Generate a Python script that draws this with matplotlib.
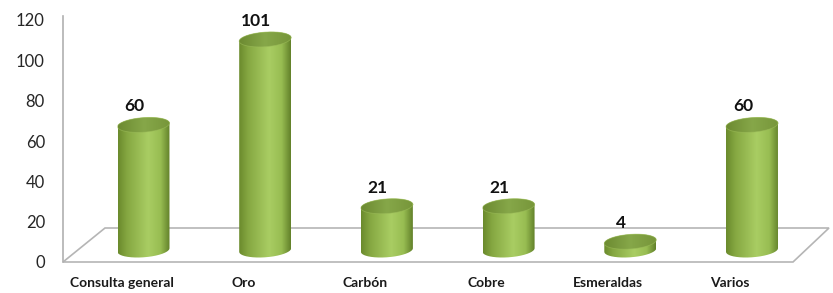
import matplotlib.pyplot as plt
import numpy as np
from matplotlib.path import Path
from matplotlib.patches import PathPatch, Polygon
from matplotlib.colors import LinearSegmentedColormap

plt.rcParams['font.family'] = ['Lato', 'DejaVu Sans']

# Data
categories = ["Consulta general", "Oro", "Carbón", "Cobre", "Esmeraldas", "Varios"]
values = [60, 101, 21, 21, 4, 60]
y_ticks = [0, 20, 40, 60, 80, 100, 120]

# Colors for the cylinders
body_cmap = LinearSegmentedColormap.from_list(
    "body", [(0.0, "#6a8a2c"), (0.18, "#86a842"), (0.58, "#a9cd63"),
             (0.82, "#98bd52"), (1.0, "#62812a")])
top_cmap = LinearSegmentedColormap.from_list(
    "top", [(0.0, "#6c8a31"), (0.5, "#86a749"), (1.0, "#77963a")])

W, H = 833, 293
fig = plt.figure(figsize=(W / 100, H / 100), dpi=100)

# pixel layout helpers (category spacing / value scale)
x0_px, dx_px = 143.5, 121.7
xlim = (-x0_px / dx_px, (W - x0_px) / dx_px)

# background axes: value axis and floor
ax = fig.add_axes([0, 0, 1, 1])
ax_scale = 242 / 120  # px per unit on the value axis
ax.set_xlim(*xlim)
ax.set_ylim(-(H - 262) / ax_scale, 262 / ax_scale)
ax.patch.set_alpha(0)
for s in ["top", "right", "bottom"]:
    ax.spines[s].set_visible(False)
spine_x = (63 - x0_px) / dx_px
ax.spines["left"].set_position(("data", spine_x))
ax.spines["left"].set_bounds(0, 122)
ax.spines["left"].set_color("#b0b0b0")
ax.spines["left"].set_linewidth(1.2)
ax.set_xticks([])
ax.set_yticks(y_ticks)
ax.tick_params(axis="y", length=0, pad=13, labelsize=12, labelcolor="#262626")

# floor (parallelogram)
back_v = (262 - 228) / ax_scale
floor = [(spine_x, 0), ((105 - x0_px) / dx_px, back_v),
         ((829 - x0_px) / dx_px, back_v), ((793 - x0_px) / dx_px, 0)]
ax.add_patch(Polygon(floor, closed=True, fill=False, edgecolor="#b5b5b5", lw=1.2))

# category labels (shifted left, under the front edge)
for i, c in enumerate(categories):
    ax.text(i - 22 / dx_px, -(283 - 262) / ax_scale, c, ha="center", va="center",
            fontsize=10, fontweight="bold", color="#1a1a1a")

# bar axes (slightly bigger scale, base sits in the middle of the floor)
ax2 = fig.add_axes([0, 0, 1, 1])
bar_scale = 2.085
ax2.axis("off")
ax2.patch.set_alpha(0)

a = 26 / dx_px          # half width of a cylinder
b = 7.3 / bar_scale     # half height of the ellipse
k = 4.0                 # tilt of the ellipses
t = np.linspace(0, 2 * np.pi, 200)


def ellipse(cx, cy, tt):
    ex = a * np.cos(tt)
    return cx + ex, cy + b * np.sin(tt) + k * ex


grad = np.linspace(0, 1, 256).reshape(1, -1)
for i, v in enumerate(values):
    # body: lower half of bottom ellipse + upper half of top ellipse
    tb = np.linspace(np.pi, 2 * np.pi, 100)
    tt = np.linspace(0, np.pi, 100)
    bx, by = ellipse(i, 0, tb)
    tx, ty = ellipse(i, v, tt)
    verts = np.column_stack([np.r_[bx, tx], np.r_[by, ty]])
    body = PathPatch(Path(verts, closed=False), facecolor="none", edgecolor="none")
    ax2.add_patch(body)
    im = ax2.imshow(grad, cmap=body_cmap, aspect="auto",
                    extent=[i - a, i + a, -b - k * a - 1, v + b + k * a + 1],
                    zorder=2, interpolation="bilinear")
    im.set_clip_path(body)

    # top face
    ex, ey = ellipse(i, v, t)
    top = PathPatch(Path(np.column_stack([ex, ey])), facecolor="none", edgecolor="none")
    ax2.add_patch(top)
    im2 = ax2.imshow(grad, cmap=top_cmap, aspect="auto",
                     extent=[i - a, i + a, v - b - k * a, v + b + k * a],
                     zorder=3, interpolation="bilinear")
    im2.set_clip_path(top)
    ax2.plot(ex, ey, color="#9dbd5a", lw=0.6, alpha=0.6, zorder=4)

    # value label
    ax2.text(i - 9 / dx_px, v + b + 1.5, str(v), ha="center", va="bottom",
             fontsize=12.5, fontweight="bold", color="#111111")

ax2.set_xlim(*xlim)
ax2.set_ylim(-(H - 250) / bar_scale, 250 / bar_scale)

fig.savefig("out.png", dpi=100)
